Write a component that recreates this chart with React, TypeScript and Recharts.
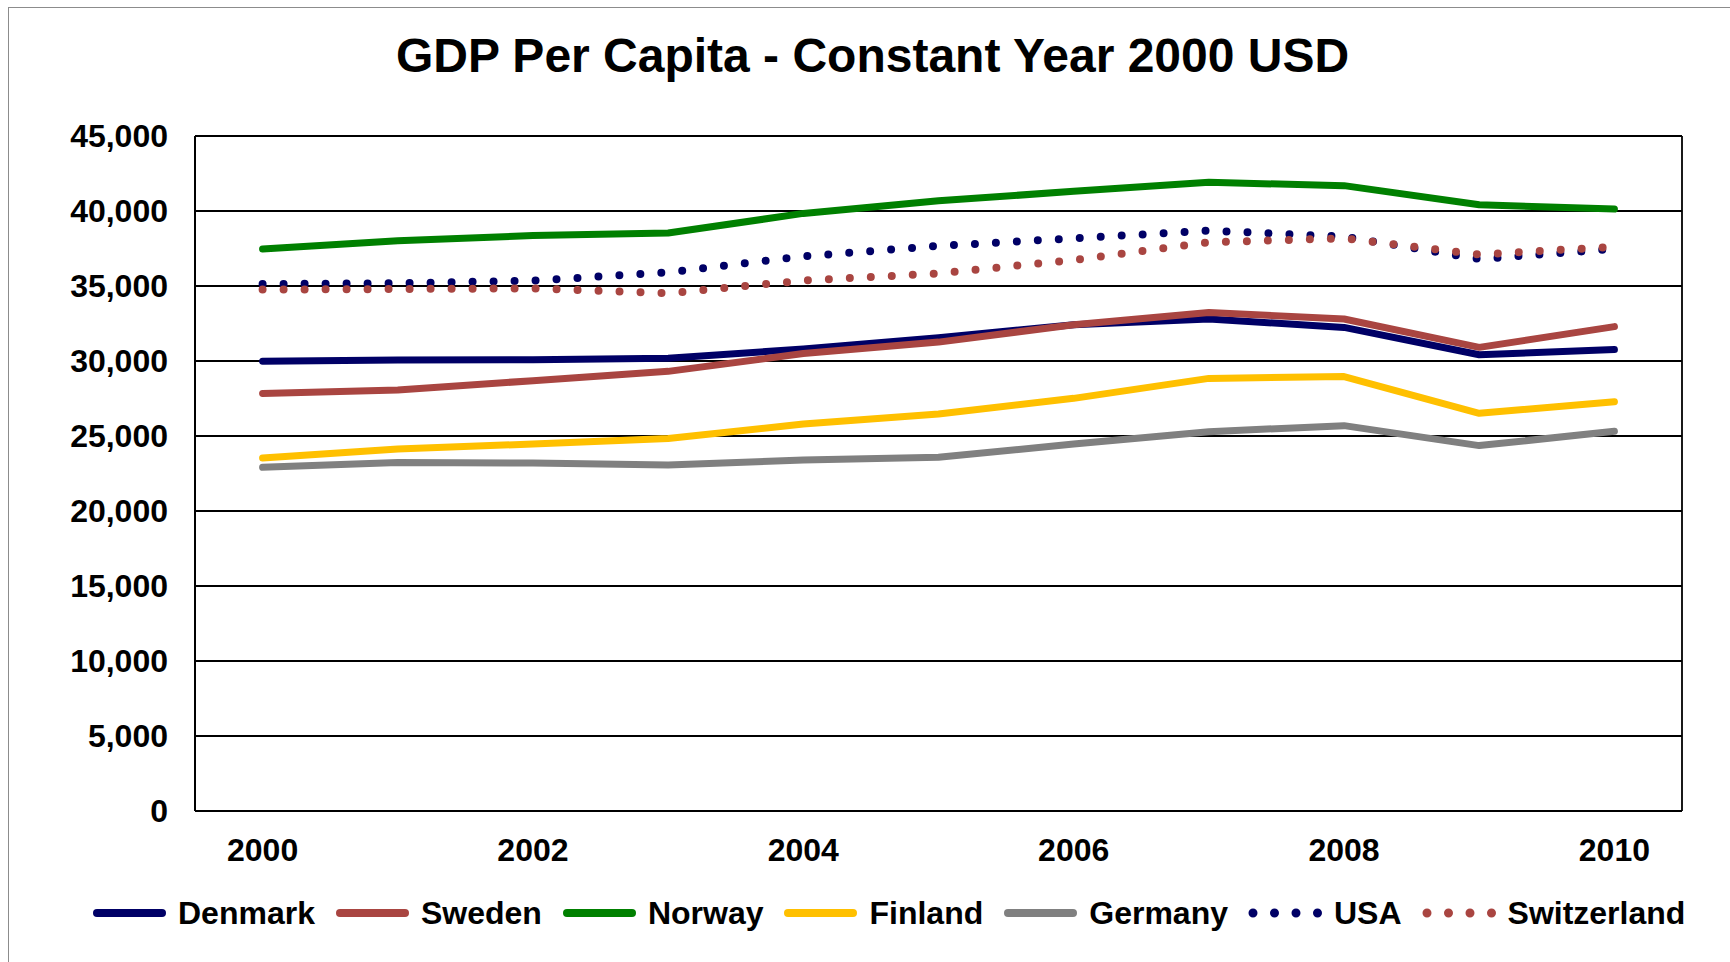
import React from 'react';
import { LineChart, Line, XAxis, YAxis, CartesianGrid, Legend } from 'recharts';

const years = ['2000', '2001', '2002', '2003', '2004', '2005', '2006', '2007', '2008', '2009', '2010'];
const denmark = [29980, 30070, 30090, 30180, 30800, 31550, 32420, 32800, 32240, 30420, 30760];
const sweden = [27840, 28070, 28690, 29310, 30500, 31260, 32420, 33240, 32800, 30910, 32290];
const norway = [37470, 38020, 38360, 38530, 39840, 40680, 41310, 41910, 41690, 40420, 40130];
const finland = [23530, 24130, 24470, 24840, 25800, 26470, 27510, 28840, 28960, 26510, 27290];
const germany = [22910, 23240, 23200, 23070, 23400, 23580, 24470, 25290, 25690, 24360, 25310];
const usa = [35130, 35180, 35360, 35910, 36980, 37670, 38180, 38690, 38290, 36800, 37470];
const switzerland = [34760, 34800, 34840, 34510, 35360, 35840, 36730, 37910, 38180, 37090, 37620];
const yTicks = [0, 5000, 10000, 15000, 20000, 25000, 30000, 35000, 40000, 45000];

const series = [
  { key: 'Denmark', color: '#000066', dotted: false },
  { key: 'Sweden', color: '#A94541', dotted: false },
  { key: 'Norway', color: '#008000', dotted: false },
  { key: 'Finland', color: '#FFC000', dotted: false },
  { key: 'Germany', color: '#808080', dotted: false },
  { key: 'USA', color: '#000066', dotted: true },
  { key: 'Switzerland', color: '#A94541', dotted: true },
];

const data = years.map((year, i) => ({
  year,
  Denmark: denmark[i],
  Sweden: sweden[i],
  Norway: norway[i],
  Finland: finland[i],
  Germany: germany[i],
  USA: usa[i],
  Switzerland: switzerland[i],
}));

const font = '"Liberation Sans", Arial, sans-serif';
const tickStyle = { fill: '#000', fontSize: 32, fontWeight: 'bold', fontFamily: font };

const renderLegend = () => (
  <div style={{ display: 'flex', alignItems: 'center', height: 60, paddingLeft: 92, fontFamily: font, fontWeight: 'bold', fontSize: 32, color: '#000' }}>
    {series.map((s, i) => (
      <div key={s.key} style={{ display: 'flex', alignItems: 'center', marginRight: i < series.length - 1 ? 20 : 0 }}>
        <svg width={74} height={12} style={{ marginRight: 12 }}>
          <line
            x1={5} y1={6} x2={s.dotted ? 70.5 : 70} y2={6}
            stroke={s.color}
            strokeWidth={s.dotted ? 9 : 8}
            strokeLinecap="round"
            strokeDasharray={s.dotted ? '0 21.5' : undefined}
          />
        </svg>
        <span style={{ whiteSpace: 'nowrap' }}>{s.key}</span>
      </div>
    ))}
  </div>
);

// plot frame: left and right edges of the plotting area
const frameVerticals = ({ offset }: any) => [offset.left, offset.left + offset.width];

const App: React.FC = () => {
  return (
    <div style={{ position: 'absolute', left: 0, top: 0, width: 1730, height: 962, overflow: 'hidden', background: '#fff' }}>
      <div style={{ position: 'absolute', left: 8, top: 7, width: 1730, height: 962, borderLeft: '1.5px solid #8c8c8c', borderTop: '1.5px solid #8c8c8c' }} />
      <div style={{ position: 'absolute', left: 0, top: 32, width: 1745, textAlign: 'center', fontFamily: font, fontWeight: 'bold', fontSize: 48, lineHeight: '48px', color: '#000' }}>
        GDP Per Capita - Constant Year 2000 USD
      </div>
      <div style={{ position: 'absolute', left: 0, top: 0 }}>
        <LineChart width={1730} height={962} data={data} margin={{ top: 136, right: 48, left: 0, bottom: 0 }}>
          <CartesianGrid
            stroke="#000"
            strokeWidth={1.8}
            verticalCoordinatesGenerator={frameVerticals}
          />
          <XAxis
            dataKey="year"
            scale="band"
            interval={1}
            height={72}
            tickLine={false}
            tickSize={0}
            tickMargin={27}
            axisLine={{ stroke: '#000', strokeWidth: 2 }}
            tick={tickStyle}
          />
          <YAxis
            width={195}
            domain={[0, 45000]}
            ticks={yTicks}
            tickLine={false}
            tickSize={0}
            tickMargin={27}
            axisLine={{ stroke: '#000', strokeWidth: 2 }}
            tick={tickStyle}
            tickFormatter={(v: number) => v.toLocaleString('en-US')}
          />
          {series.map((s) => (
            <Line
              key={s.key}
              type="linear"
              dataKey={s.key}
              stroke={s.color}
              strokeWidth={s.dotted ? 8 : 7}
              strokeLinecap="round"
              strokeLinejoin="round"
              strokeDasharray={s.dotted ? '0 21' : undefined}
              dot={false}
              activeDot={false}
              isAnimationActive={false}
            />
          ))}
          <Legend
            verticalAlign="bottom"
            height={79}
            content={renderLegend}
            wrapperStyle={{ left: 0, width: 1730, top: 883 }}
          />
        </LineChart>
      </div>
    </div>
  );
};

export default App;
